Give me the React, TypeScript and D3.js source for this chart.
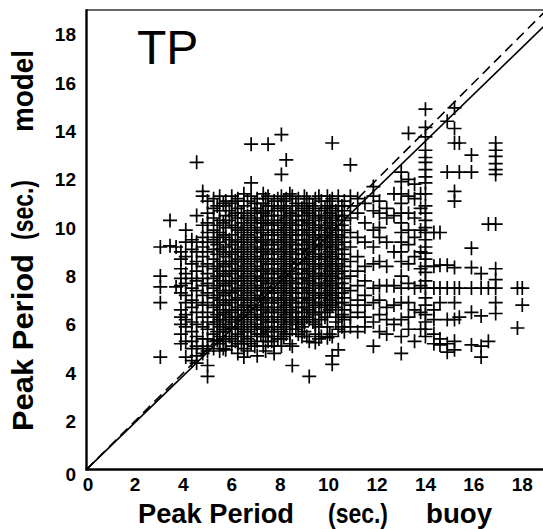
import React from "react";
import * as d3 from "d3";

// Buoy peak period columns (x, seconds) and the model peak periods (y, seconds) at each column
const buoyColumns: number[] = [
  3.05, 3.45, 3.7, 3.9, 4.1, 4.35, 4.55, 4.8, 5.0, 5.25, 5.5, 5.75, 6.0, 6.25, 6.5, 6.8,
  7.05, 7.3, 7.5, 7.75, 8.05, 8.25, 8.5, 8.75, 9.0, 9.2, 9.45, 9.7, 9.95, 10.15, 10.4,
  10.65, 10.9, 11.2, 11.5, 11.85, 12.1, 12.4, 12.7, 13.0, 13.3, 13.55, 13.8, 14.0, 14.35,
  14.6, 14.9, 15.2, 15.4, 15.9, 16.3, 16.6, 16.9, 17.8, 18.0,
];

const modelColumns: number[][] = [
  [9.2, 8.0, 7.55, 6.9, 4.65],
  [10.3, 9.25],
  [9.2, 7.55],
  [9.0, 8.7, 8.3, 7.9, 7.6, 7.3, 6.6, 6.3, 6.0, 5.6, 5.2],
  [9.9, 9.4, 8.8, 8.1, 7.7, 7.2, 6.9, 6.4, 6.2, 5.9, 5.3, 4.65],
  [9.5, 9.1, 8.5, 7.9, 7.5, 7.0, 6.7, 6.1, 5.7, 5.3, 5.0, 4.5],
  [12.7, 10.5, 9.4, 9.0, 8.6, 8.2, 7.8, 7.4, 6.9, 6.5, 6.0, 5.5, 5.1, 4.7, 4.4],
  [11.5, 11.3, 10.1, 9.6, 9.2, 8.8, 8.4, 7.9, 7.6, 7.2, 6.8, 6.3, 5.9, 5.4, 5.0, 4.8],
  [11.1, 10.6, 10.2, 9.8, 9.4, 9.0, 8.5, 8.1, 7.7, 7.3, 6.9, 6.5, 6.1, 5.8, 5.4, 5.1, 4.9, 4.3, 3.85],
  [11.2, 10.8, 10.4, 9.9, 9.5, 9.1, 8.7, 8.3, 7.9, 7.5, 7.1, 6.7, 6.3, 6.0, 5.6, 5.3, 5.0],
  [11.3, 10.7, 10.3, 9.8, 9.4, 9.1, 8.6, 8.2, 7.8, 7.4, 7.0, 6.6, 6.2, 5.9, 5.5, 5.2, 4.9],
  [11.1, 10.9, 10.5, 10.0, 9.6, 9.2, 8.8, 8.4, 8.0, 7.6, 7.2, 6.8, 6.4, 6.0, 5.7, 5.3, 4.95],
  [11.3, 11.0, 10.5, 10.1, 9.7, 9.3, 8.9, 8.5, 8.1, 7.7, 7.3, 6.9, 6.5, 6.1, 5.8, 5.4, 5.1],
  [11.2, 10.8, 10.4, 9.9, 9.5, 9.1, 8.7, 8.3, 7.9, 7.5, 7.1, 6.7, 6.3, 5.9, 5.6, 5.2, 4.8],
  [11.4, 10.9, 10.4, 10.0, 9.6, 9.2, 8.8, 8.4, 8.0, 7.6, 7.2, 6.8, 6.4, 6.0, 5.7, 5.3, 5.0, 4.65],
  [13.45, 11.85, 11.3, 10.7, 10.3, 9.9, 9.5, 9.1, 8.7, 8.3, 7.9, 7.5, 7.1, 6.7, 6.3, 5.9, 5.5, 5.2],
  [11.2, 10.8, 10.4, 10.0, 9.6, 9.2, 8.8, 8.4, 8.0, 7.6, 7.2, 6.8, 6.4, 6.0, 5.6, 5.3, 4.7],
  [11.4, 11.0, 10.6, 10.2, 9.8, 9.4, 9.0, 8.6, 8.2, 7.8, 7.4, 7.0, 6.6, 6.2, 5.8, 5.5, 5.1],
  [13.45, 11.3, 10.9, 10.5, 10.1, 9.7, 9.3, 8.9, 8.5, 8.1, 7.7, 7.3, 6.9, 6.5, 6.1, 5.7, 5.3],
  [11.1, 10.7, 10.3, 9.9, 9.5, 9.1, 8.7, 8.3, 7.9, 7.5, 7.1, 6.7, 6.3, 5.9, 5.5, 5.1, 4.8],
  [13.85, 12.2, 11.3, 10.9, 10.5, 10.1, 9.7, 9.3, 8.9, 8.5, 8.1, 7.7, 7.3, 6.9, 6.5, 6.1, 5.7, 5.4, 5.1],
  [12.8, 11.2, 10.8, 10.4, 10.0, 9.6, 9.2, 8.8, 8.4, 8.0, 7.6, 7.2, 6.8, 6.4, 6.0, 5.6],
  [11.3, 10.9, 10.5, 10.1, 9.7, 9.3, 8.9, 8.5, 8.1, 7.7, 7.3, 6.9, 6.5, 6.1, 5.8, 5.1, 4.3],
  [11.2, 10.7, 10.3, 9.9, 9.5, 9.1, 8.7, 8.3, 7.9, 7.5, 7.1, 6.7, 6.3, 6.0, 5.6],
  [11.3, 10.9, 10.5, 10.1, 9.7, 9.3, 8.9, 8.5, 8.1, 7.7, 7.3, 6.9, 6.5, 6.1, 5.7],
  [11.0, 10.6, 10.2, 9.8, 9.4, 9.0, 8.6, 8.2, 7.8, 7.4, 7.0, 6.6, 6.2, 5.3, 3.85],
  [11.2, 10.8, 10.4, 10.0, 9.6, 9.2, 8.8, 8.4, 8.0, 7.6, 7.2, 6.8, 6.4, 6.0, 5.6, 5.25],
  [11.1, 10.7, 10.3, 9.9, 9.5, 9.1, 8.7, 8.3, 7.9, 7.5, 7.1, 6.7, 6.2, 5.5],
  [11.3, 10.9, 10.5, 10.1, 9.7, 9.3, 8.9, 8.5, 8.1, 7.7, 7.3, 6.9, 6.5, 5.9, 5.45],
  [13.5, 11.2, 10.8, 10.4, 10.0, 9.6, 9.2, 8.8, 8.4, 8.0, 7.6, 7.2, 6.8, 5.5, 4.7, 4.35],
  [11.3, 10.9, 10.5, 10.1, 9.7, 9.3, 8.9, 8.5, 8.1, 7.7, 7.3, 6.9, 6.3, 5.8, 4.95],
  [11.1, 10.7, 10.3, 9.9, 9.4, 8.9, 8.4, 7.9, 7.5, 7.1, 6.6, 6.2, 5.7],
  [12.6, 11.3, 10.9, 10.4, 9.8, 9.2, 8.6, 8.0, 7.4, 6.8, 6.3, 5.9],
  [11.2, 10.6, 9.6, 8.8, 8.2, 7.6, 7.0, 6.5, 5.7],
  [11.0, 10.2, 9.4, 8.4, 7.8, 7.2, 6.8, 6.3, 5.9],
  [11.7, 11.3, 10.7, 9.9, 9.2, 8.5, 7.5, 6.9, 6.1, 5.1],
  [11.1, 10.6, 10.0, 9.6, 8.6, 7.6, 7.0, 6.4, 5.7],
  [10.8, 10.4, 9.4, 8.4, 7.6, 6.7, 6.2, 5.6],
  [11.4, 10.5, 9.0, 7.6, 6.8, 6.0],
  [12.3, 11.9, 11.4, 11.0, 10.6, 10.2, 9.8, 9.4, 9.0, 8.6, 8.0, 7.5, 6.9, 6.2, 5.5, 4.8],
  [13.9, 12.0, 11.3, 10.6, 9.9, 9.3, 8.5, 7.7, 6.9, 6.3, 5.8],
  [11.8, 11.2, 10.4, 9.6, 8.8, 7.5, 6.6, 5.3],
  [11.4, 10.8, 9.9, 9.0, 8.3, 7.6, 6.5, 5.8],
  [14.9, 14.15, 13.75, 13.2, 12.9, 12.7, 12.4, 12.1, 11.85, 11.4, 10.9, 10.6, 10.3, 10.0, 9.8,
   9.5, 9.2, 8.95, 8.7, 8.4, 8.15, 7.8, 7.5, 7.1, 6.8, 6.4, 6.1, 5.8, 5.5],
  [9.8, 8.4, 7.5, 6.6, 6.2, 5.6, 5.2],
  [9.8, 8.45, 7.5, 6.9, 5.4, 5.15],
  [14.4, 12.3, 8.45, 7.5, 6.2, 5.2, 4.85],
  [14.95, 14.1, 13.5, 11.5, 11.1, 8.35, 7.5, 6.9, 6.2, 5.3, 4.95],
  [13.5, 12.3, 7.5, 6.3],
  [13.0, 12.3, 9.15, 8.35, 7.5, 6.5, 5.15],
  [8.1, 7.5, 6.35, 5.1, 4.65],
  [10.15, 7.5, 5.3],
  [13.5, 13.2, 12.95, 12.65, 12.4, 12.2, 10.15, 8.3, 7.85, 7.5, 6.9, 6.45],
  [7.5, 5.85],
  [7.5, 6.8],
];

// Extra buoy columns inside the dense core of the cloud, with their model periods
const coreBuoyColumns: number[] = [
  5.4, 5.65, 5.9, 6.15, 6.4, 6.65, 6.95, 7.2, 7.4, 7.65, 7.9, 8.15, 8.4, 8.65, 8.9, 9.1,
  9.35, 9.6, 9.85, 10.05, 10.3, 10.55,
];

const coreModelColumns: number[][] = [
  [10.9, 10.1, 9.6, 9.3, 8.9, 8.4, 8.0, 7.6, 7.2, 6.8, 6.4, 6.1, 5.7, 5.35],
  [11.0, 10.2, 9.7, 9.0, 8.5, 8.1, 7.7, 7.3, 6.9, 6.5, 6.2, 5.8, 5.4, 5.0],
  [10.7, 10.3, 9.5, 9.0, 8.6, 8.2, 7.8, 7.4, 7.0, 6.6, 6.3, 5.9, 5.5],
  [11.1, 10.6, 10.0, 9.4, 9.0, 8.6, 8.2, 7.8, 7.4, 7.0, 6.6, 6.2, 5.8, 5.3],
  [10.6, 10.2, 9.8, 9.4, 9.0, 8.6, 8.2, 7.8, 7.4, 7.0, 6.6, 6.2, 5.8, 5.5, 5.2],
  [11.1, 10.5, 10.1, 9.7, 9.3, 8.9, 8.5, 8.1, 7.7, 7.3, 6.9, 6.5, 6.1, 5.7, 5.4, 4.9],
  [11.0, 10.6, 10.2, 9.8, 9.4, 9.0, 8.6, 8.2, 7.8, 7.4, 7.0, 6.6, 6.2, 5.8, 5.1],
  [10.7, 10.3, 9.9, 9.5, 9.1, 8.7, 8.3, 7.9, 7.5, 7.1, 6.7, 6.3, 5.9, 5.6],
  [11.2, 10.7, 10.2, 9.5, 9.1, 8.7, 8.3, 7.9, 7.5, 7.1, 6.7, 6.3, 5.9, 5.5, 4.9],
  [10.9, 10.5, 10.1, 9.7, 9.3, 8.9, 8.5, 8.1, 7.7, 7.3, 6.9, 6.5, 6.1, 5.7, 5.3],
  [11.2, 10.8, 10.2, 9.8, 9.4, 9.0, 8.6, 8.2, 7.8, 7.4, 7.0, 6.6, 6.2, 5.8, 5.4],
  [11.1, 10.7, 10.3, 9.9, 9.5, 9.1, 8.7, 8.3, 7.9, 7.5, 7.1, 6.7, 6.3, 5.9, 5.5],
  [11.4, 10.6, 10.2, 9.8, 9.4, 9.0, 8.6, 8.2, 7.8, 7.4, 7.0, 6.6, 6.2, 5.6, 5.2],
  [11.0, 10.5, 10.1, 9.7, 9.3, 8.9, 8.5, 8.1, 7.7, 7.3, 6.9, 6.5, 6.2, 5.8],
  [10.8, 10.3, 9.9, 9.5, 9.1, 8.7, 8.3, 7.9, 7.5, 7.1, 6.7, 6.3, 5.9, 5.5],
  [11.2, 10.7, 10.3, 9.9, 9.5, 9.1, 8.7, 8.3, 7.9, 7.5, 7.1, 6.7, 6.3, 5.5],
  [10.9, 10.5, 10.1, 9.7, 9.3, 8.9, 8.5, 8.1, 7.7, 7.3, 6.9, 6.5, 6.1],
  [11.3, 10.5, 10.1, 9.7, 9.3, 8.9, 8.5, 8.1, 7.7, 7.3, 6.9, 6.5, 5.9, 5.4],
  [10.8, 10.4, 10.0, 9.6, 9.2, 8.8, 8.4, 8.0, 7.6, 7.2, 6.8, 6.3],
  [11.1, 10.6, 10.2, 9.8, 9.4, 9.0, 8.6, 8.2, 7.8, 7.4, 7.0, 6.6, 5.6],
  [10.7, 10.3, 9.9, 9.5, 9.1, 8.7, 8.3, 7.9, 7.5, 7.1, 6.7, 6.1],
  [10.9, 10.5, 10.1, 9.6, 9.1, 8.7, 8.2, 7.7, 7.3, 6.9, 6.4, 5.9],
];

const xTicks: number[] = [0, 2, 4, 6, 8, 10, 12, 14, 16, 18];
const yTicks: number[] = [0, 2, 4, 6, 8, 10, 12, 14, 16, 18];
const axisMax = 19;
const fitSlope = 0.97; // solid line: model = 0.97 * buoy
const panelLabel = "TP";

const FONT = "'Liberation Sans', Arial, Helvetica, sans-serif";

export default function App() {
  const W = 543;
  const H = 529;
  const x = d3.scaleLinear().domain([0, axisMax]).range([86.5, 546.5]);
  const y = d3.scaleLinear().domain([0, axisMax]).range([469.5, 10]);

  const points: [number, number][] = [];
  buoyColumns.forEach((bx, i) => {
    modelColumns[i].forEach((my) => points.push([bx, my]));
  });
  coreBuoyColumns.forEach((bx, i) => {
    coreModelColumns[i].forEach((my) => points.push([bx, my]));
  });

  const line = d3
    .line<[number, number]>()
    .x((d) => x(d[0]))
    .y((d) => y(d[1]));

  const fitLine: [number, number][] = [
    [0, 0],
    [axisMax, axisMax * fitSlope],
  ];
  const oneToOne: [number, number][] = [
    [0, 0],
    [axisMax, axisMax],
  ];

  const arm = 7;
  const plus = `M${-arm},0H${arm}M0,${-arm}V${arm}`;

  return (
    <svg
      width={W}
      height={H}
      style={{ position: "absolute", left: 0, top: 0, background: "#fff" }}
    >
      <defs>
        <clipPath id="plotClip">
          <rect x={x(0)} y={y(axisMax)} width={x(axisMax) - x(0)} height={y(0) - y(axisMax)} />
        </clipPath>
      </defs>
      <rect x={0} y={0} width={W} height={H} fill="#fff" />

      <g clipPath="url(#plotClip)">
        <path d={line(oneToOne) || ""} fill="none" stroke="#000" strokeWidth={1.6} strokeDasharray="10,6" />
        <path d={line(fitLine) || ""} fill="none" stroke="#000" strokeWidth={1.6} />
      </g>

      <g>
        {points.map((p, i) => (
          <path
            key={i}
            d={plus}
            transform={`translate(${x(p[0])},${y(p[1])})`}
            stroke="#000"
            strokeWidth={1.7}
            fill="none"
          />
        ))}
      </g>

      {/* frame */}
      <line x1={x(0)} x2={x(axisMax)} y1={y(axisMax)} y2={y(axisMax)} stroke="#333" strokeWidth={1.6} />
      <line x1={x(0)} x2={x(0)} y1={y(axisMax) - 0.8} y2={y(0) + 1} stroke="#000" strokeWidth={2.4} />
      <line x1={x(0) - 1} x2={x(axisMax)} y1={y(0)} y2={y(0)} stroke="#000" strokeWidth={2.4} />

      {/* tick labels */}
      {xTicks.map((t) => (
        <text
          key={"x" + t}
          x={x(t) + (t === 0 ? 1.5 : 0)}
          y={491}
          textAnchor="middle"
          fontFamily={FONT}
          fontWeight="bold"
          fontSize={19}
        >
          {t}
        </text>
      ))}
      {yTicks.map((t) => (
        <text
          key={"y" + t}
          x={76}
          y={y(t) + (t === 0 ? 11 : 7)}
          textAnchor="end"
          fontFamily={FONT}
          fontWeight="bold"
          fontSize={19}
        >
          {t}
        </text>
      ))}

      {/* panel label */}
      <text x={137} y={64} fontFamily={FONT} fontSize={48} fontWeight="normal">
        {panelLabel}
      </text>

      {/* x title */}
      <g fontFamily={FONT} fontWeight="bold" fontSize={27}>
        <text x={138} y={523} textLength={156} lengthAdjust="spacingAndGlyphs">Peak Period</text>
        <text x={328} y={523} textLength={60} lengthAdjust="spacingAndGlyphs">(sec.)</text>
        <text x={426} y={523} textLength={66} lengthAdjust="spacingAndGlyphs">buoy</text>
      </g>

      {/* y title */}
      <g fontFamily={FONT} fontWeight="bold" fontSize={29}>
        <text transform="translate(33,431) rotate(-90)" textLength={177} lengthAdjust="spacingAndGlyphs">
          Peak Period
        </text>
        <text transform="translate(33,240) rotate(-90)" textLength={60} lengthAdjust="spacingAndGlyphs">
          (sec.)
        </text>
        <text transform="translate(33,132) rotate(-90)" textLength={82} lengthAdjust="spacingAndGlyphs">
          model
        </text>
      </g>
    </svg>
  );
}
